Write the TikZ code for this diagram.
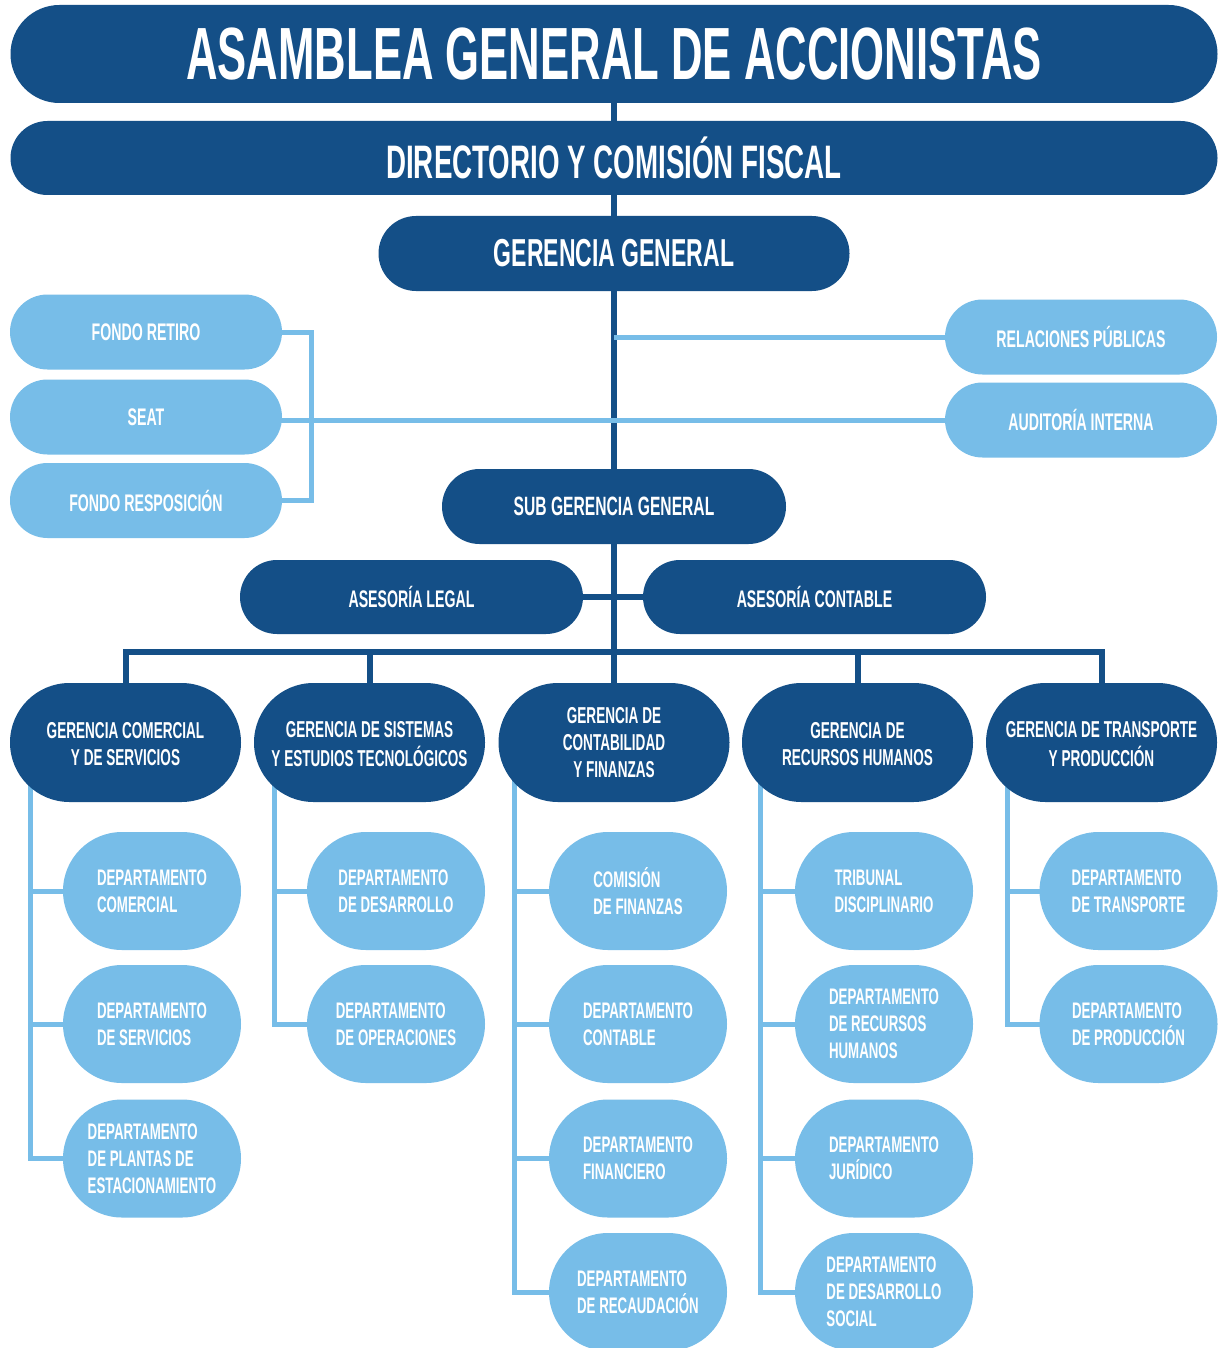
\documentclass[tikz,border=0pt]{standalone}
\usepackage{fontspec}
\setmainfont{Liberation Sans}[FakeStretch=0.59]
\usetikzlibrary{shapes.misc,backgrounds}
\definecolor{dkblue}{HTML}{144F87}
\definecolor{ltblue}{HTML}{77BDE8}
\begin{document}
\begin{tikzpicture}[x=1pt,y=-1pt,
  dk/.style={rounded rectangle, fill=dkblue, text=white, inner sep=0pt, align=center},
  lt/.style={rounded rectangle, fill=ltblue, text=white, inner sep=0pt, align=center},
  sidebox/.style={lt, minimum width=272pt, minimum height=75pt, font=\bfseries\fontsize{24}{28}\selectfont},
  asebox/.style={dk, minimum width=343pt, minimum height=74pt, font=\bfseries\fontsize{24}{28}\selectfont},
  gerbox/.style={dk, minimum width=231pt, minimum height=119pt, font=\bfseries\fontsize{23}{27}\selectfont},
  deptbox/.style={lt, minimum width=178pt, minimum height=118pt, align=left, font=\bfseries\fontsize{22.5}{27}\selectfont},
  dline/.style={draw=dkblue, line width=6pt},
  lline/.style={draw=ltblue, line width=5pt},
]
\useasboundingbox (0,0) rectangle (1219,1348);
\clip (0,0) rectangle (1219,1348);

% top levels
\node[dk, minimum width=1207pt, minimum height=98pt, font=\bfseries\fontsize{74}{80}\selectfont] (asam) at (614,54) {ASAMBLEA GENERAL DE ACCIONISTAS};
\node[dk, minimum width=1207pt, minimum height=74pt, font=\bfseries\fontsize{47}{52}\selectfont] (dir) at (614,158) {DIRECTORIO Y COMISIÓN FISCAL};
\node[dk, minimum width=471pt, minimum height=75pt, font=\bfseries\fontsize{39}{44}\selectfont] (gg) at (614,253.5) {GERENCIA GENERAL};

% side boxes
\node[sidebox] (fr) at (146,332) {FONDO RETIRO};
\node[sidebox] (seat) at (146,417) {SEAT};
\node[sidebox] (fres) at (146,500.5) {FONDO RESPOSICIÓN};
\node[sidebox] (rp) at (1081,337) {RELACIONES PÚBLICAS};
\node[sidebox] (ai) at (1081,420) {AUDITORÍA INTERNA};

\node[dk, minimum width=344pt, minimum height=75pt, font=\bfseries\fontsize{26.5}{30}\selectfont] (sgg) at (614,506.5) {SUB GERENCIA GENERAL};
\node[asebox] (al) at (411.5,597) {ASESORÍA LEGAL};
\node[asebox] (ac) at (814.5,597) {ASESORÍA CONTABLE};

% gerencias
\node[gerbox] (g1) at (125.5,742.5) {\strut GERENCIA COMERCIAL\\Y DE SERVICIOS};
\node[gerbox] (g2) at (369.5,742.5) {\strut GERENCIA DE SISTEMAS\\Y ESTUDIOS TECNOLÓGICOS};
\node[gerbox] (g3) at (614,742.5) {GERENCIA DE\\CONTABILIDAD\\Y FINANZAS};
\node[gerbox] (g4) at (857.5,742.5) {\strut GERENCIA DE\\RECURSOS HUMANOS};
\node[gerbox] (g5) at (1101.5,742.5) {\strut GERENCIA DE TRANSPORTE\\Y PRODUCCIÓN};

% departments
\node[deptbox] (d11) at (152,891) {DEPARTAMENTO\\COMERCIAL};
\node[deptbox] (d12) at (152,1024) {DEPARTAMENTO\\DE SERVICIOS};
\node[deptbox] (d13) at (152,1158.5) {DEPARTAMENTO\\DE PLANTAS DE\\ESTACIONAMIENTO};

\node[deptbox] (d21) at (396,891) {DEPARTAMENTO\\DE DESARROLLO};
\node[deptbox] (d22) at (396,1024) {DEPARTAMENTO\\DE OPERACIONES};

\node[deptbox] (d31) at (638,891) {COMISIÓN\\DE FINANZAS};
\node[deptbox] (d32) at (638,1024) {DEPARTAMENTO\\CONTABLE};
\node[deptbox] (d33) at (638,1158.5) {DEPARTAMENTO\\FINANCIERO};
\node[deptbox] (d34) at (638,1292) {DEPARTAMENTO\\DE RECAUDACIÓN};

\node[deptbox] (d41) at (884,891) {TRIBUNAL\\DISCIPLINARIO};
\node[deptbox] (d42) at (884,1024) {DEPARTAMENTO\\DE RECURSOS\\HUMANOS};
\node[deptbox] (d43) at (884,1158.5) {DEPARTAMENTO\\JURÍDICO};
\node[deptbox] (d44) at (884,1292) {DEPARTAMENTO\\DE DESARROLLO\\SOCIAL};

\node[deptbox] (d51) at (1128.5,891) {DEPARTAMENTO\\DE TRANSPORTE};
\node[deptbox] (d52) at (1128.5,1024) {DEPARTAMENTO\\DE PRODUCCIÓN};

% helper coordinates
\coordinate (bus) at (614,652);
\coordinate (brk) at (311,417);
\coordinate (c1) at (30,742);
\coordinate (c2) at (274.5,742);
\coordinate (c3) at (514.5,742);
\coordinate (c4) at (760.5,742);
\coordinate (c5) at (1007.5,742);

\begin{scope}[on background layer]
  \fill[white] (0,0) rectangle (1219,1348);
  % main spine
  \draw[dline] (asam.center) -- (dir.center);
  \draw[dline] (dir.center) -- (gg.center);
  \draw[dline] (gg.center) -- (sgg.center);
  \draw[dline] (sgg.center) -- (bus);
  % bus to gerencias
  \draw[dline] (g1.center) -- (g1.center |- bus) -- (g5.center |- bus) -- (g5.center);
  \draw[dline] (g2.center) -- (g2.center |- bus);
  \draw[dline] (g3.center) -- (g3.center |- bus);
  \draw[dline] (g4.center) -- (g4.center |- bus);
  % asesorias
  \draw[dline] (al.center) -- (ac.center);
  % side staff
  \draw[lline] (fr.center) -| (brk) |- (fres.center);
  \draw[lline] (seat.center |- ai.center) -- (ai.center);
  \draw[lline] (gg.center |- rp.center) -- (rp.center);
  % column branches
  \draw[lline] (c1) |- (d13.center);
  \draw[lline] (c1 |- d11.center) -- (d11.center);
  \draw[lline] (c1 |- d12.center) -- (d12.center);
  \draw[lline] (c2) |- (d22.center);
  \draw[lline] (c2 |- d21.center) -- (d21.center);
  \draw[lline] (c3) |- (d34.center);
  \draw[lline] (c3 |- d31.center) -- (d31.center);
  \draw[lline] (c3 |- d32.center) -- (d32.center);
  \draw[lline] (c3 |- d33.center) -- (d33.center);
  \draw[lline] (c4) |- (d44.center);
  \draw[lline] (c4 |- d41.center) -- (d41.center);
  \draw[lline] (c4 |- d42.center) -- (d42.center);
  \draw[lline] (c4 |- d43.center) -- (d43.center);
  \draw[lline] (c5) |- (d52.center);
  \draw[lline] (c5 |- d51.center) -- (d51.center);
\end{scope}
\end{tikzpicture}
\end{document}
